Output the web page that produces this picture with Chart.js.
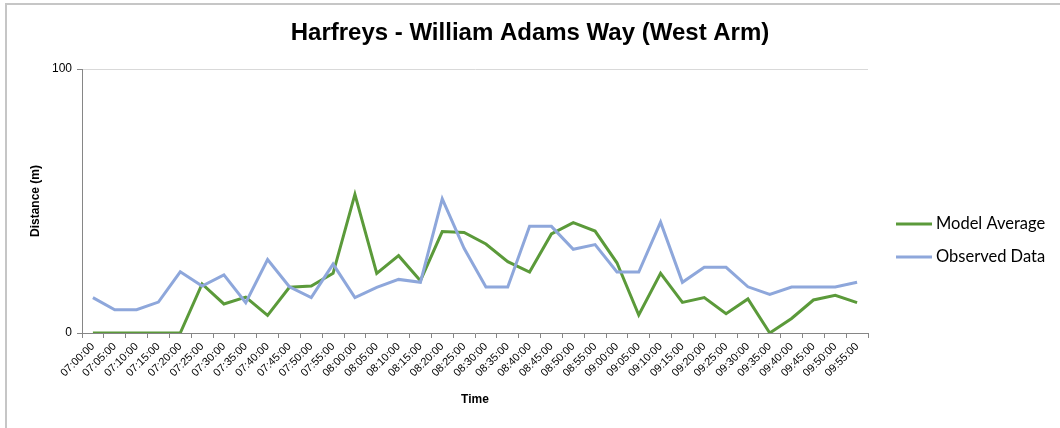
<!DOCTYPE html>
<html>
<head>
<meta charset="utf-8">
<title>Harfreys - William Adams Way (West Arm)</title>
<script src="https://cdn.jsdelivr.net/npm/chart.js@4.4.1/dist/chart.umd.min.js"></script>
<style>
  html, body { margin: 0; padding: 0; background: #fff; overflow: hidden; }
  #wrap { position: relative; width: 1060px; height: 428px; }
  #frame { position: absolute; left: 5px; top: 3px; width: 2000px; height: 2000px; border: 2px solid #c6c6c6; }
  canvas { position: absolute; left: 0; top: 0; }
</style>
</head>
<body>
<div id="wrap">
  <div id="frame"></div>
  <canvas id="chart" width="1060" height="428"></canvas>
</div>
<script>
// time slots, 5 min apart
const times = [
  '07:00:00','07:05:00','07:10:00','07:15:00','07:20:00','07:25:00','07:30:00','07:35:00','07:40:00','07:45:00','07:50:00','07:55:00',
  '08:00:00','08:05:00','08:10:00','08:15:00','08:20:00','08:25:00','08:30:00','08:35:00','08:40:00','08:45:00','08:50:00','08:55:00',
  '09:00:00','09:05:00','09:10:00','09:15:00','09:20:00','09:25:00','09:30:00','09:35:00','09:40:00','09:45:00','09:50:00','09:55:00'
];

// queue distance (m)
const modelAverage = [
  0, 0, 0, 0, 0, 18.6, 11, 13.6, 6.7, 17.3, 17.8, 22.6,
  52.5, 22.6, 29.3, 19.8, 38.4, 38.1, 33.7, 27, 23.1, 37.5, 41.8, 38.6,
  26.6, 6.8, 22.6, 11.6, 13.4, 7.3, 12.9, 0, 5.5, 12.5, 14.3, 11.5
];
const observedData = [
  13.4, 8.8, 8.8, 11.7, 23.2, 17.8, 22, 11.5, 27.8, 17.5, 13.4, 26.1,
  13.4, 17.3, 20.3, 19.2, 50.8, 32.1, 17.4, 17.4, 40.4, 40.4, 31.7, 33.5,
  23.1, 23.1, 42, 19.2, 24.9, 24.9, 17.5, 14.6, 17.4, 17.4, 17.4, 19.2
];

const yTicks = [0, 100];

const AXIS = '#868686';
const GREEN = '#5B9A3A';
const BLUE = '#8EA7DB';
const FONT = '"Liberation Sans", Arial, sans-serif';

// legend on the right, drawn by hand (Excel style)
const sideLegend = {
  id: 'sideLegend',
  afterDraw(chart) {
    const ctx = chart.ctx;
    const rows = [224, 257];
    ctx.save();
    ctx.font = '16.5px Lato, "Open Sans", sans-serif';
    ctx.textBaseline = 'middle';
    ctx.fillStyle = '#000';
    chart.data.datasets.forEach((ds, i) => {
      const y = rows[i];
      ctx.strokeStyle = ds.borderColor;
      ctx.lineWidth = 3;
      ctx.beginPath();
      ctx.moveTo(896, y);
      ctx.lineTo(932, y);
      ctx.stroke();
      ctx.fillText(ds.label, 936, y);
    });
    ctx.restore();
  }
};

new Chart(document.getElementById('chart'), {
  type: 'line',
  data: {
    labels: times,
    datasets: [
      { label: 'Model Average', data: modelAverage, borderColor: GREEN, backgroundColor: GREEN,
        borderWidth: 3, pointRadius: 0, tension: 0, order: 1 },
      { label: 'Observed Data', data: observedData, borderColor: BLUE, backgroundColor: BLUE,
        borderWidth: 3, pointRadius: 0, tension: 0, order: 0 },
    ],
  },
  options: {
    responsive: false,
    animation: false,
    devicePixelRatio: 1,
    layout: { padding: 0 },
    plugins: {
      legend: { display: false },
      tooltip: { enabled: false },
      title: {
        display: true,
        text: 'Harfreys - William Adams Way (West Arm)',
        color: '#000',
        font: { family: FONT, size: 24, weight: 'bold' },
        padding: { top: 18.6, bottom: 21.6 },
      },
    },
    scales: {
      x: {
        offset: true,
        grid: { offset: true, drawOnChartArea: false, drawTicks: true, tickLength: 5, color: AXIS },
        border: { color: AXIS, width: 1 },
        ticks: {
          autoSkip: false, minRotation: 45, maxRotation: 45, padding: 2, color: '#000',
          font: { family: FONT, size: 11 },
        },
        title: {
          display: true, text: 'Time', color: '#000',
          font: { family: FONT, size: 12, weight: 'bold' },
          padding: { top: 0, bottom: 21 },
        },
        afterFit(scale) { scale.height = 95; },
      },
      y: {
        min: 0, max: 100,
        afterBuildTicks(scale) { scale.ticks = yTicks.map(v => ({ value: v })); },
        grid: {
          drawTicks: true, tickLength: 5,
          color: c => (c.tick && c.tick.value === 0 ? 'rgba(0,0,0,0)' : '#d9d9d9'),
          tickColor: AXIS,
        },
        border: { color: AXIS, width: 1 },
        ticks: {
          padding: 5, color: '#000',
          font: { family: FONT, size: 12 },
        },
        title: {
          display: true, text: 'Distance (m)', color: '#000',
          font: { family: FONT, size: 12, weight: 'bold' },
          padding: { top: 28, bottom: 0 },
        },
        afterFit(scale) { scale.width = 82; },
      },
      // empty right-hand box that keeps room for the legend
      side: {
        type: 'linear', position: 'right', display: true,
        grid: { display: false }, ticks: { display: false }, border: { display: false },
        afterFit(scale) { scale.width = 192; },
      },
    },
  },
  plugins: [sideLegend],
});
</script>
</body>
</html>
